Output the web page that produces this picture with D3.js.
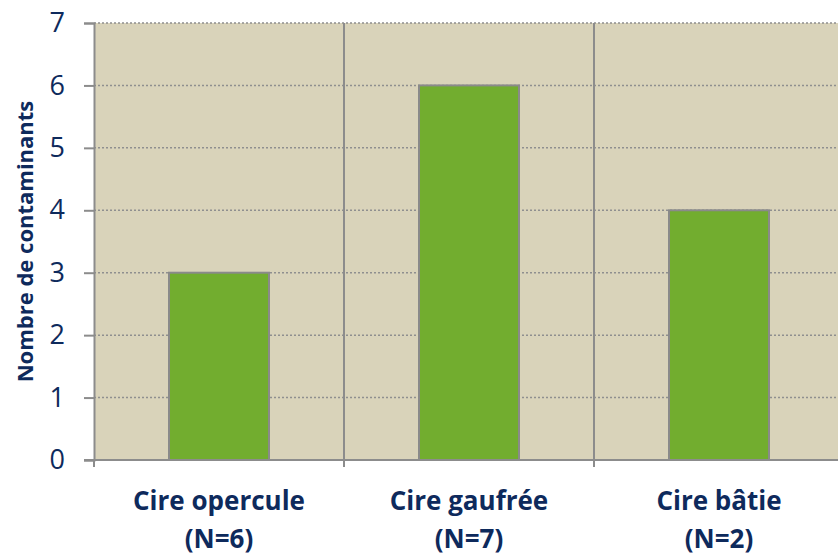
<!DOCTYPE html>
<html>
<head>
<meta charset="utf-8">
<title>Nombre de contaminants</title>
<script src="https://d3js.org/d3.v7.min.js"></script>
<style>
  body { margin: 0; background: #fff; }
  text { font-family: "Open Sans", sans-serif; fill: #0e2a5c; }
</style>
</head>
<body>
<div id="chart"></div>
<script>
const categories = ["Cire opercule", "Cire gaufrée", "Cire bâtie"];
const sampleSizes = ["(N=6)", "(N=7)", "(N=2)"];
const values = [3, 6, 4];
const yTicks = [0, 1, 2, 3, 4, 5, 6, 7];

const width = 838, height = 556;
const margin = {top: 23, left: 94, bottom: 96};
const plotW = 750; // runs past the right edge, as in the original
const plotH = height - margin.top - margin.bottom;

const svg = d3.select("#chart").append("svg")
    .attr("width", width)
    .attr("height", height);

const x = d3.scaleBand().domain(categories).range([0, plotW]);
const y = d3.scaleLinear().domain([0, 7]).range([plotH, 0]);

const g = svg.append("g").attr("transform", `translate(${margin.left},${margin.top})`);

// plot background
g.append("rect")
    .attr("width", plotW).attr("height", plotH)
    .attr("fill", "#d9d3ba");

// dotted gridlines
g.selectAll(".grid").data(yTicks.filter(d => d > 0)).enter()
  .append("line")
    .attr("x1", 0).attr("x2", plotW)
    .attr("y1", d => y(d)).attr("y2", d => y(d))
    .attr("stroke", "#8f8f8f").attr("stroke-width", 1.5)
    .attr("stroke-dasharray", "2,2");

// vertical separators between categories
g.selectAll(".sep").data(categories.slice(1)).enter()
  .append("line")
    .attr("x1", d => x(d)).attr("x2", d => x(d))
    .attr("y1", 0).attr("y2", plotH + 7)
    .attr("stroke", "#8c8c8c").attr("stroke-width", 2);

// bars
const barW = x.bandwidth() * 0.4;
g.selectAll(".bar").data(values).enter()
  .append("rect")
    .attr("x", (d, i) => x(categories[i]) + (x.bandwidth() - barW) / 2)
    .attr("y", d => y(d))
    .attr("width", barW)
    .attr("height", d => plotH - y(d))
    .attr("fill", "#72ad2f")
    .attr("stroke", "#8a8a8a").attr("stroke-width", 2);

// y axis
const yAxis = g.append("g")
    .call(d3.axisLeft(y).tickValues(yTicks).tickFormat(d3.format("d")).tickSize(10).tickPadding(19));
yAxis.select(".domain").attr("stroke", "#8c8c8c").attr("stroke-width", 2);
yAxis.selectAll(".tick line").attr("stroke", "#8c8c8c").attr("stroke-width", 2);
yAxis.selectAll(".tick text")
    .style("font-size", "27px").style("font-family", "Open Sans, sans-serif")
    .attr("fill", "#0e2a5c");

// x axis baseline + left tick
g.append("line")
    .attr("x1", -10).attr("x2", plotW)
    .attr("y1", plotH).attr("y2", plotH)
    .attr("stroke", "#8c8c8c").attr("stroke-width", 2);
g.append("line")
    .attr("x1", 0).attr("x2", 0)
    .attr("y1", plotH).attr("y2", plotH + 7)
    .attr("stroke", "#8c8c8c").attr("stroke-width", 2);

// category labels
const lab = g.selectAll(".xlab").data(categories).enter()
  .append("text")
    .attr("text-anchor", "middle")
    .style("font-size", "26px").style("font-weight", "bold");
lab.append("tspan")
    .attr("x", d => x(d) + x.bandwidth() / 2)
    .attr("y", 510 - margin.top)
    .text(d => d);
lab.append("tspan")
    .attr("x", d => x(d) + x.bandwidth() / 2)
    .attr("y", 548 - margin.top)
    .text((d, i) => sampleSizes[i]);

// y title
svg.append("text")
    .attr("transform", `translate(33,${margin.top + plotH / 2}) rotate(-90)`)
    .attr("text-anchor", "middle")
    .style("font-size", "22px").style("font-weight", "bold")
    .text("Nombre de contaminants");
</script>
</body>
</html>
